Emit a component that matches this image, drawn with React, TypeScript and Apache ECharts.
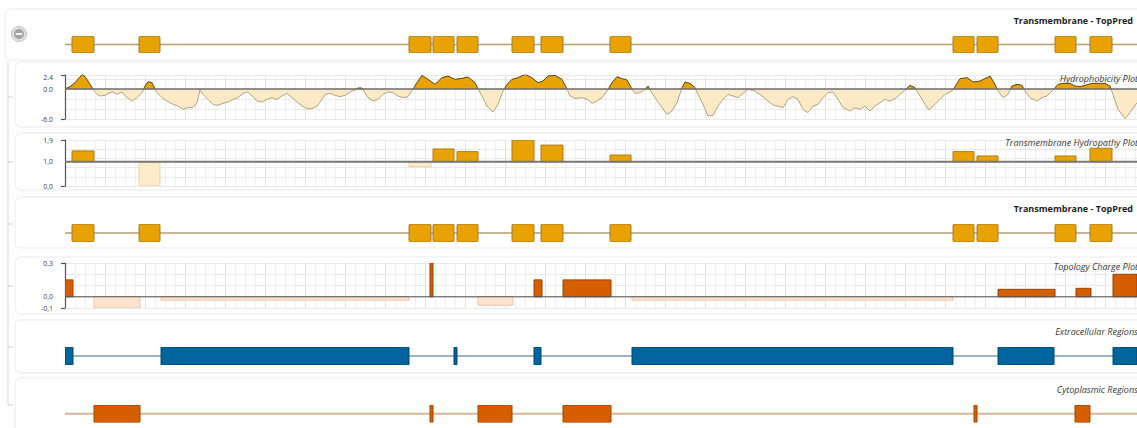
import React, { useEffect, useRef } from "react";
import * as echarts from "echarts";

// ---------- data ----------
const SEQ_LENGTH = 1072;

// TopPred transmembrane segments (residue start, end)
const TM_SEGMENTS: number[][] = [
  [7, 29], [74, 95], [344, 366], [368, 389], [392, 413], [447, 469],
  [476, 498], [545, 566], [888, 909], [912, 933], [990, 1011], [1025, 1047],
];

// Transmembrane hydropathy value of each segment (baseline 1.0)
const HYDROPATHY_VALUES = [1.45, 0.0, 0.8, 1.53, 1.42, 1.9, 1.69, 1.28, 1.42, 1.24, 1.24, 1.56];
const HYDROPATHY_BASE = 1.0;

// Topology charge per loop region
const CHARGE_REGIONS: number[][] = [
  [0, 8], [29, 75], [96, 344], [365, 368], [413, 448], [469, 477],
  [498, 546], [567, 888], [933, 990], [1011, 1026], [1048, 1072],
];
const CHARGE_VALUES = [0.15, -0.1, -0.03, 0.3, -0.075, 0.15, 0.15, -0.03, 0.066, 0.075, 0.2];

const EXTRACELLULAR_REGIONS: number[][] = [
  [0, 8], [96, 344], [389, 392], [469, 476], [567, 888], [933, 989], [1048, 1072],
];
const CYTOPLASMIC_REGIONS: number[][] = [
  [29, 75], [365, 368], [413, 447], [498, 546], [909, 912], [1010, 1025],
];

// Hydrophobicity profile
const HYDRO_RESIDUES = [
  0, 5, 10, 15, 18, 22, 25, 28, 32, 35, 40, 45, 48, 52, 57, 62, 67, 72, 77, 80,
  83, 87, 90, 92, 97, 102, 108, 113, 118, 123, 128, 132, 135, 138, 143, 148, 153, 158, 163, 168,
  173, 178, 183, 187, 192, 197, 202, 207, 212, 217, 222, 227, 232, 237, 242, 247, 252, 257, 260, 265,
  270, 275, 280, 285, 290, 293, 297, 300, 303, 308, 313, 318, 323, 328, 333, 338, 343, 348, 351, 357,
  363, 370, 377, 383, 390, 397, 403, 410, 413, 417, 422, 428, 433, 438, 442, 447, 453, 460, 467, 473,
  478, 483, 490, 497, 502, 505, 510, 517, 522, 527, 532, 537, 542, 547, 552, 557, 562, 567, 570, 575,
  580, 583, 585, 590, 597, 602, 607, 612, 617, 620, 625, 630, 633, 638, 643, 648, 653, 658, 663, 668,
  673, 678, 683, 690, 697, 703, 708, 712, 718, 723, 728, 733, 738, 743, 748, 753, 758, 763, 768, 773,
  778, 785, 790, 795, 800, 805, 810, 815, 820, 825, 830, 835, 840, 845, 850, 855, 860, 864, 870, 875,
  880, 887, 890, 895, 902, 908, 915, 922, 925, 930, 933, 938, 943, 947, 952, 957, 960, 965, 972, 977,
  982, 988, 993, 998, 1005, 1010, 1015, 1020, 1027, 1033, 1040, 1045, 1048, 1053, 1060, 1065, 1072,
];
const HYDRO_VALUES = [
  0, 0.47, 1.27, 2.47, 2.93, 1.93, 0.93, 0, -1.07, -1.4, -1.27, -0.73, -0.6, -1.07, -0.6, -1.73, -2.4, -1.73, -0.73, 0.6,
  1.47, 1.27, 0, -0.73, -1.73, -2.4, -3.07, -3.4, -4.07, -3.73, -3.73, -2.73, -0.2, -1.07, -2.07, -3.07, -3.27, -2.87, -2.6, -2.07,
  -1.73, -0.87, -0.6, -1.4, -2.4, -2.6, -2.07, -1.73, -2.07, -1.4, -0.87, -1.73, -2.6, -3.4, -3.93, -3.93, -3.4, -2.07, -1.07, -0.87,
  -1.27, -1.53, -1.27, -0.6, -0.2, 0.2, 0.2, -0.73, -1.73, -2.4, -2.07, -1.07, -0.6, -0.73, -1.4, -1.73, -1.53, -0.07, 1.0, 2.73,
  1.93, 0.93, 2.27, 2.6, 1.93, 2.13, 2.4, 1.27, 0, -1.4, -3.4, -4.6, -3.07, -0.4, 0.93, 1.93, 2.27, 2.93, 2.27, 1.27,
  1.6, 2.6, 2.73, 1.93, 0, -1.4, -1.87, -1.73, -2.07, -2.87, -2.4, -1.73, -0.4, 1.27, 2.47, 2.07, 1.8, 0, -0.87, -0.73,
  -0.07, 0.6, -0.2, -1.73, -3.73, -5.07, -4.4, -2.73, 0.27, 1.4, 1.13, 0.27, -1.07, -3.07, -5.4, -5.27, -3.4, -2.07, -1.07, -1.4,
  -1.73, -0.87, -0.07, -0.4, -1.4, -2.4, -3.2, -3.4, -3.73, -2.07, -1.53, -2.07, -4.07, -4.73, -3.4, -3.07, -1.73, -0.73, -0.6, -2.07,
  -3.73, -4.4, -3.73, -4.07, -3.4, -4.4, -3.4, -2.73, -2.07, -2.4, -1.93, -1.07, -0.2, 0.73, 0.27, -1.4, -3.07, -4.2, -3.07, -2.07,
  -1.07, -0.4, 0.47, 2.07, 2.27, 1.4, 1.6, 2.27, 2.6, 0.93, -0.4, -1.73, -1.07, 0.6, 0.93, 0.73, -0.4, -1.73, -2.4, -1.73,
  -1.4, -0.2, 0.93, 1.13, 1.13, 0.6, 0.47, 0.73, 1.13, 1.13, 1.13, 0.6, -1.07, -4.07, -5.93, -4.73, -2.73,
];

// axis label values
const HYDRO_LABELS = [-6, 0, 2.4];
const HYDROPATHY_LABELS = [0, 1, 1.9];
const CHARGE_LABELS = [-0.1, 0, 0.3];

const TRACK_TITLES = ["Transmembrane - TopPred", "Transmembrane - TopPred"];
const PLOT_TITLES = [
  "Hydrophobicity Plot",
  "Transmembrane Hydropathy Plot",
  "Topology Charge Plot",
  "Extracellular Regions",
  "Cytoplasmic Regions",
];

// ---------- styling ----------
const FONT = '"Open Sans", "DejaVu Sans", sans-serif';
const ORANGE = "#E8A204";
const DARK_ORANGE = "#D55E00";
const BLUE = "#00659C";

const GRIDS = [
  { top: 36, height: 17 },
  { top: 75, height: 44 },
  { top: 140, height: 46 },
  { top: 224, height: 18 },
  { top: 263, height: 45 },
  { top: 347, height: 18 },
  { top: 405, height: 17.5 },
];

function rectSeries(
  xIdx: number,
  yIdx: number,
  rows: number[][],
  base: number,
  colors: (v: number) => [string, string],
  radius: number
) {
  return {
    type: "custom",
    xAxisIndex: xIdx,
    yAxisIndex: yIdx,
    data: rows,
    encode: { x: [0, 1], y: 2 },
    clip: true,
    z: 3,
    renderItem: (params: any, api: any) => {
      const s = api.value(0);
      const e = api.value(1);
      const v = api.value(2);
      const a = api.coord([s, base]);
      const b = api.coord([e, v]);
      const [fill, stroke] = colors(v);
      return {
        type: "rect",
        shape: {
          x: a[0],
          y: Math.min(a[1], b[1]),
          width: Math.max(b[0] - a[0], 1),
          height: Math.abs(b[1] - a[1]),
          r: radius,
        },
        style: { fill, stroke, lineWidth: 1 },
      };
    },
  };
}

function trackLine(xIdx: number, yIdx: number, y: number, color: string, width: number, z = 2) {
  return {
    type: "line",
    xAxisIndex: xIdx,
    yAxisIndex: yIdx,
    data: [
      [0, y],
      [SEQ_LENGTH, y],
    ],
    symbol: "none",
    silent: true,
    z,
    lineStyle: { color, width },
  };
}

const fmtDot = (v: number) => v.toFixed(1);
const fmtComma = (v: number) => v.toFixed(1).replace(".", ",");

function labelAxis(gridIndex: number, min: number, max: number, labels: number[], fmt: (v: number) => string) {
  return {
    type: "value",
    gridIndex,
    min,
    max,
    offset: 2,
    axisLine: { show: true, lineStyle: { color: "#555", width: 1.2 } },
    axisTick: { show: true, length: 4, customValues: [min, max], lineStyle: { color: "#555", width: 1.2 } },
    axisLabel: {
      customValues: labels,
      formatter: (v: number) => (labels.some((l) => Math.abs(l - v) < 1e-6) ? fmt(v) : ""),
      fontSize: 7,
      color: "#444",
      margin: 10,
      fontFamily: FONT,
    },
    splitLine: { show: false },
  };
}

function splitAxis(gridIndex: number, min: number, max: number, interval: number) {
  return {
    type: "value",
    gridIndex,
    min,
    max,
    interval,
    axisLine: { show: false },
    axisTick: { show: false },
    axisLabel: { show: false },
    splitLine: { show: true, lineStyle: { color: "#e9e9e9", width: 1 } },
  };
}

function hiddenAxis(gridIndex: number) {
  return { type: "value", gridIndex, min: 0, max: 1, show: false };
}

function buildOption() {
  const plotGrids = [1, 2, 4];
  const xAxis = GRIDS.map((_, i) =>
    plotGrids.includes(i)
      ? {
          type: "value",
          gridIndex: i,
          min: 0,
          max: SEQ_LENGTH,
          interval: 40,
          axisLine: { show: false },
          axisTick: { show: false },
          axisLabel: { show: false },
          splitLine: { show: true, lineStyle: { color: "#e2e2e2", width: 1 } },
          minorTick: { show: false, splitNumber: 4 },
          minorSplitLine: { show: true, lineStyle: { color: "#f0f0f0", width: 1 } },
        }
      : { type: "value", gridIndex: i, min: 0, max: SEQ_LENGTH, show: false }
  );

  const yAxis = [
    hiddenAxis(0), // 0
    labelAxis(1, -6, 2.8, HYDRO_LABELS, fmtDot), // 1
    splitAxis(1, -6, 2.8, 2), // 2
    labelAxis(2, 0, 1.9, HYDROPATHY_LABELS, fmtComma), // 3
    splitAxis(2, 0, 1.9, 0.38), // 4
    hiddenAxis(3), // 5
    labelAxis(4, -0.1, 0.3, CHARGE_LABELS, fmtComma), // 6
    splitAxis(4, -0.1, 0.3, 0.1), // 7
    hiddenAxis(5), // 8
    hiddenAxis(6), // 9
  ];

  const tmRows = TM_SEGMENTS.map(([s, e]) => [s, e, 1]);
  const hydroData = HYDRO_RESIDUES.map((r, i) => [r, HYDRO_VALUES[i]]);
  const hydropathyRows = TM_SEGMENTS.map(([s, e], i) => [s, e, HYDROPATHY_VALUES[i]]);
  const chargeRows = CHARGE_REGIONS.map(([s, e], i) => [s, e, CHARGE_VALUES[i]]);
  const extraRows = EXTRACELLULAR_REGIONS.map(([s, e]) => [s, e, 1]);
  const cytoRows = CYTOPLASMIC_REGIONS.map(([s, e]) => [s, e, 1]);

  const series: any[] = [
    // 0,1 TopPred top
    trackLine(0, 0, 0.5, "#B99D6E", 1.5),
    rectSeries(0, 0, tmRows, 0, () => [ORANGE, "#A27A2C"], 1.5),
    // 2,3,4 hydrophobicity
    {
      type: "line",
      xAxisIndex: 1,
      yAxisIndex: 1,
      data: hydroData,
      symbol: "none",
      silent: true,
      lineStyle: { width: 0, opacity: 0 },
      areaStyle: { opacity: 1, origin: 0 },
      z: 2,
    },
    {
      type: "line",
      xAxisIndex: 1,
      yAxisIndex: 1,
      data: hydroData,
      symbol: "none",
      silent: true,
      lineStyle: { width: 1 },
      z: 3,
    },
    trackLine(1, 1, 0, "#6b6b6b", 1.5, 4),
    // 5,6 hydropathy
    rectSeries(2, 3, hydropathyRows, HYDROPATHY_BASE, (v) =>
      v >= HYDROPATHY_BASE ? [ORANGE, "#B07D1E"] : ["#FDEBC9", "#EBD3A6"], 0),
    trackLine(2, 3, HYDROPATHY_BASE, "#777777", 2, 4),
    // 7,8 TopPred second
    trackLine(3, 5, 0.5, "#B99D6E", 1.5),
    rectSeries(3, 5, tmRows, 0, () => [ORANGE, "#A27A2C"], 1.5),
    // 9,10 charge
    rectSeries(4, 6, chargeRows, 0, (v) => (v >= 0 ? [DARK_ORANGE, "#9B4100"] : ["#FDE4D0", "#EBC4AA"]), 0),
    trackLine(4, 6, 0, "#555555", 1.2, 4),
    // 11,12 extracellular
    trackLine(5, 8, 0.5, "#9CB5C4", 2),
    rectSeries(5, 8, extraRows, 0, () => [BLUE, "#00466E"], 0.5),
    // 13,14 cytoplasmic
    trackLine(6, 9, 0.5, "#D7B59C", 2),
    rectSeries(6, 9, cytoRows, 0, () => [DARK_ORANGE, "#9E4500"], 0.5),
  ];

  const cards = [
    { x: 5, y: 9, w: 1140, h: 51 },
    { x: 15, y: 62, w: 1130, h: 65 },
    { x: 15, y: 133, w: 1130, h: 57 },
    { x: 15, y: 197, w: 1130, h: 51 },
    { x: 15, y: 257, w: 1130, h: 57 },
    { x: 15, y: 320, w: 1130, h: 53 },
    { x: 15, y: 378, w: 1130, h: 60 },
  ];
  const sideTicks = [97, 162, 224, 286, 347, 405];

  const graphic: any[] = [
    ...cards.map((c) => ({
      type: "rect",
      silent: true,
      z: -1,
      shape: { x: c.x, y: c.y, width: c.w, height: c.h, r: 6 },
      style: { fill: "none", stroke: "#ebebeb", lineWidth: 1 },
    })),
    {
      type: "line",
      silent: true,
      shape: { x1: 8, y1: 62, x2: 8, y2: 405 },
      style: { stroke: "#d9d9d9", lineWidth: 1 },
    },
    ...sideTicks.map((y) => ({
      type: "line",
      silent: true,
      shape: { x1: 8, y1: y, x2: 13, y2: y },
      style: { stroke: "#cfcfcf", lineWidth: 1 },
    })),
    // collapse button
    {
      type: "circle",
      silent: true,
      shape: { cx: 19, cy: 34, r: 7.5 },
      style: { fill: "#dedede", stroke: "#c2c2c2", lineWidth: 1 },
    },
    {
      type: "circle",
      silent: true,
      shape: { cx: 19, cy: 34, r: 5 },
      style: { fill: "#a3a3a3" },
    },
    {
      type: "rect",
      silent: true,
      shape: { x: 15.5, y: 33, width: 7, height: 2, r: 1 },
      style: { fill: "#f4f4f4" },
    },
    // titles
    {
      type: "text",
      silent: true,
      z: 10,
      x: 1133,
      y: 20,
      style: { text: TRACK_TITLES[0], font: `bold 9px ${FONT}`, fill: "#1e1e1e", align: "right", verticalAlign: "middle" },
    },
    {
      type: "text",
      silent: true,
      z: 10,
      x: 1133,
      y: 208,
      style: { text: TRACK_TITLES[1], font: `bold 9px ${FONT}`, fill: "#1e1e1e", align: "right", verticalAlign: "middle" },
    },
    ...[78, 142, 266, 331, 389].map((y, i) => ({
      type: "text",
      silent: true,
      z: 10,
      x: 1138,
      y,
      style: {
        text: PLOT_TITLES[i],
        font: `italic 9px ${FONT}`,
        fill: "#3a3a3a",
        align: "right",
        verticalAlign: "middle",
      },
    })),
  ];

  return {
    animation: false,
    backgroundColor: "#ffffff",
    grid: GRIDS.map((g) => ({ left: 65, right: 0, top: g.top, height: g.height, outerBoundsMode: "none", containLabel: false })),
    xAxis,
    yAxis,
    visualMap: [
      {
        type: "piecewise",
        show: false,
        seriesIndex: 2,
        dimension: 1,
        pieces: [
          { gte: -100, lt: 0, color: "#FCEAC6" },
          { gte: 0, lte: 100, color: ORANGE },
        ],
      },
      {
        type: "piecewise",
        show: false,
        seriesIndex: 3,
        dimension: 1,
        pieces: [
          { gte: -100, lt: 0, color: "#B5A27F" },
          { gte: 0, lte: 100, color: "#5C4512" },
        ],
      },
    ],
    series,
    graphic: { elements: graphic },
  };
}

export default function App() {
  const ref = useRef<HTMLDivElement>(null);
  useEffect(() => {
    if (!ref.current) return;
    const chart = echarts.init(ref.current, null, { renderer: "svg" });
    chart.setOption(buildOption() as any);
    return () => chart.dispose();
  }, []);
  return (
    <div
      ref={ref}
      style={{ position: "fixed", left: 0, top: 0, width: 1137, height: 428, background: "#fff" }}
    />
  );
}
